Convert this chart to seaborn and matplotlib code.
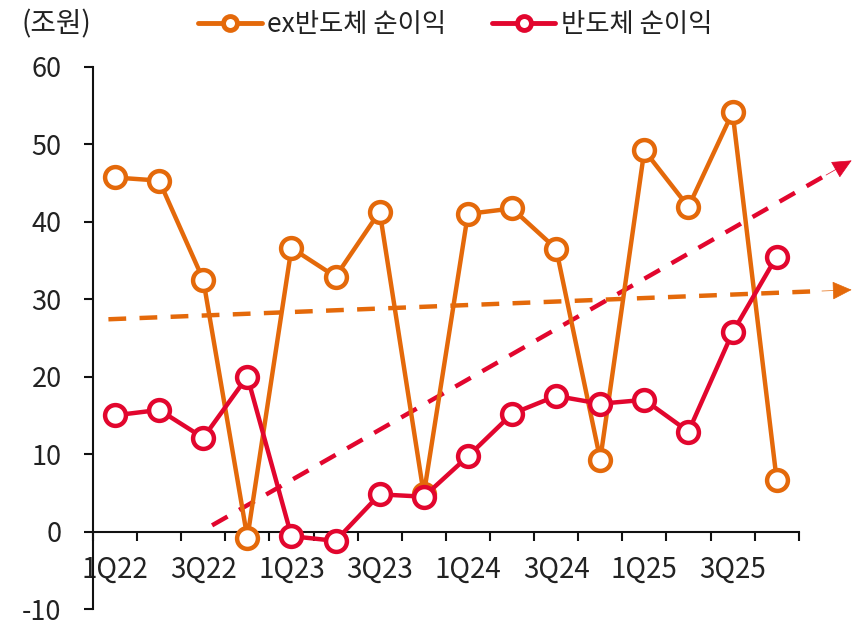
import matplotlib
matplotlib.use("Agg")
import matplotlib.pyplot as plt
import seaborn as sns
import pandas as pd
import numpy as np
from matplotlib.lines import Line2D

sns.set_theme(style="white")
plt.rcParams['font.family'] = ['Noto Sans CJK KR', 'DejaVu Sans']

quarters = ["1Q22", "2Q22", "3Q22", "4Q22", "1Q23", "2Q23", "3Q23", "4Q23",
            "1Q24", "2Q24", "3Q24", "4Q24", "1Q25", "2Q25", "3Q25", "4Q25"]
ex_semi = [45.7, 45.3, 32.5, -0.8, 36.6, 32.9, 41.3, 4.8,
           41.0, 41.7, 36.5, 9.3, 49.2, 41.9, 54.1, 6.7]
semi = [15.0, 15.7, 12.1, 20.0, -0.6, -1.2, 4.8, 4.5,
        9.7, 15.2, 17.5, 16.5, 17.0, 12.9, 25.7, 35.5]
tick_labels = ["1Q22", "3Q22", "1Q23", "3Q23", "1Q24", "3Q24", "1Q25", "3Q25"]
yticks = [-10, 0, 10, 20, 30, 40, 50, 60]
# trend arrows (start x, start y, end x, end y) in quarter-index / value units
trend_ex = [-0.15, 27.4, 16.7, 31.2]
trend_semi = [2.2, 0.8, 16.7, 47.9]

ORANGE = "#E4690A"
RED = "#E2062E"
names = ["ex반도체 순이익", "반도체 순이익"]

df = pd.DataFrame({
    "idx": list(range(len(quarters))) * 2,
    "value": ex_semi + semi,
    "series": [names[0]] * len(quarters) + [names[1]] * len(quarters),
})

fig = plt.figure(figsize=(8.57, 6.2), dpi=100)
ax = fig.add_axes([0.1085, 0.0177, 0.8235, 0.8747])

# trend arrows
for tr, col in [(trend_ex, ORANGE), (trend_semi, RED)]:
    x0, y0, x1, y1 = tr
    dx, dy = x1 - x0, y1 - y0
    f = 0.96
    ax.plot([x0, x0 + dx * f], [y0, y0 + dy * f], color=col, lw=3.2,
            dashes=(4, 3), clip_on=False, zorder=2)
    ax.annotate("", xy=(x1, y1), xytext=(x0 + dx * 0.96, y0 + dy * 0.96),
                arrowprops=dict(arrowstyle="-|>,head_length=0.7,head_width=0.33",
                                mutation_scale=18, color=col, lw=0.5,
                                shrinkA=0, shrinkB=0),
                annotation_clip=False, zorder=2)

sns.lineplot(data=df, x="idx", y="value", hue="series",
             palette={names[0]: ORANGE, names[1]: RED},
             marker="o", markersize=15, markerfacecolor="white",
             markeredgewidth=3.2, linewidth=3.2, ax=ax, legend=False,
             zorder=3, clip_on=False)
for ln, col in zip(ax.lines[-2:], [ORANGE, RED]):
    ln.set_markeredgecolor(col)

ax.set_xlim(-0.5, 15.5)
ax.set_ylim(-10, 60)
ax.set_xlabel("")
ax.set_ylabel("")

for s in ["top", "right"]:
    ax.spines[s].set_visible(False)
ax.spines["bottom"].set_position(("data", 0))
for s in ["left", "bottom"]:
    ax.spines[s].set_color("#111111")
    ax.spines[s].set_linewidth(1.5)

ax.set_yticks(yticks)
ax.set_yticklabels([str(v) for v in yticks])
ax.tick_params(axis="y", direction="out", length=6.5, width=1.5,
               color="#111111", pad=16, labelsize=19.5, labelcolor="#222222", left=True)

ax.set_xticks(np.arange(-0.5, 16, 1.0))
ax.set_xticklabels([])
ax.tick_params(axis="x", which="major", direction="out", length=6.5, width=1.5,
               color="#111111", bottom=True)
ax.set_xticks(np.arange(0, 16, 2), minor=True)
ax.set_xticklabels(tick_labels, minor=True)
ax.tick_params(axis="x", which="minor", length=0, pad=17, labelsize=20,
               labelcolor="#222222")
ax.grid(False)

fig.text(0.025, 0.96, "(조원)", fontsize=20, color="#222222", va="center", ha="left")

handles = [Line2D([], [], color=c, lw=3.5, marker="o", markersize=10,
                  markerfacecolor="white", markeredgewidth=3.5, markeredgecolor=c)
           for c in [ORANGE, RED]]
fig.legend(handles, names, loc="center left", bbox_to_anchor=(0.219, 0.96),
           ncol=2, frameon=False, fontsize=19, handlelength=2.4,
           handletextpad=0.2, columnspacing=1.75, borderaxespad=0,
           borderpad=0.4, labelcolor="#222222")

fig.savefig("out.png", dpi=100, facecolor="white")
